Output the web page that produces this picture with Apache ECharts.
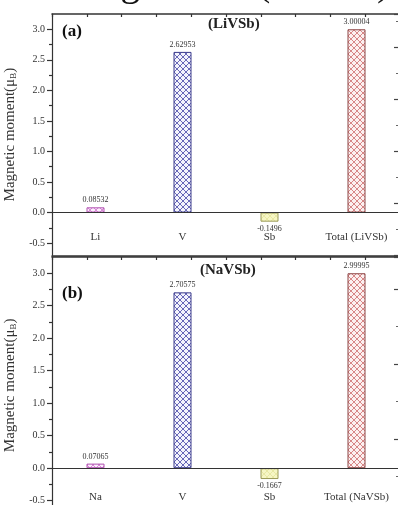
<!DOCTYPE html>
<html><head><meta charset="utf-8">
<script src="https://cdn.jsdelivr.net/npm/echarts@6/dist/echarts.min.js"></script>
<style>html,body{margin:0;padding:0;background:#fff}#c{width:398px;height:505px}</style>
</head><body><div id="c"></div>
<script>
const catsA = ['Li', 'V', 'Sb', 'Total (LiVSb)'];
const valsA = [0.08532, 2.62953, -0.1496, 3.00004];
const catsB = ['Na', 'V', 'Sb', 'Total (NaVSb)'];
const valsB = [0.07065, 2.70575, -0.1667, 2.99995];
const yMajor = [-0.5, 0, 0.5, 1.0, 1.5, 2.0, 2.5, 3.0];
const yMinor = [-0.25, 0.25, 0.75, 1.25, 1.75, 2.25, 2.75];

function hatch(line, bg) {
  const c = document.createElement('canvas'); c.width = 6; c.height = 6;
  const g = c.getContext('2d'); g.fillStyle = bg; g.fillRect(0, 0, 6, 6);
  g.strokeStyle = line; g.lineWidth = 0.9;
  g.beginPath(); g.moveTo(-1, -1); g.lineTo(7, 7); g.moveTo(7, -1); g.lineTo(-1, 7); g.stroke();
  return { image: c, repeat: 'repeat' };
}
const styles = [
  { border: '#b050b0', fill: hatch('#d47ad4', '#fbeefb') },
  { border: '#3c3c8c', fill: hatch('#5858b0', '#f4f4fc') },
  { border: '#9a9a58', fill: hatch('#e6e6a0', '#f6f6c4') },
  { border: '#8c4444', fill: hatch('#d27a7a', '#fcf0f0') }
];
const FONT = 'Liberation Serif';
const TXT = '#333';

function barData(vals) {
  return vals.map((v, i) => ({
    value: v,
    itemStyle: { color: styles[i].fill, borderColor: styles[i].border, borderWidth: 1 },
    label: { position: v < 0 ? 'bottom' : 'top' }
  }));
}

function gridAxes(gi, cats, yStart, labelMargin, rightRange) {
  const xs = [
    { gridIndex: gi, type: 'category', data: cats, position: 'bottom', z: 5,
      axisLine: { onZero: true, onZeroAxisIndex: yStart, lineStyle: { color: TXT, width: 1.2 } },
      axisTick: { alignWithLabel: true, length: 5, lineStyle: { color: TXT, width: 1.2 } },
      axisLabel: { show: false } },
    { gridIndex: gi, type: 'category', data: cats, position: 'bottom', z: 5,
      axisLine: { show: false, onZero: true, onZeroAxisIndex: yStart },
      axisTick: { alignWithLabel: false, length: 3, lineStyle: { color: TXT, width: 1.2 } },
      axisLabel: { show: false } },
    { gridIndex: gi, type: 'category', data: cats, position: 'bottom',
      axisLine: { show: false, onZero: false },
      axisTick: { show: false },
      axisLabel: { margin: labelMargin, fontFamily: FONT, fontSize: 11, color: TXT } },
    { gridIndex: gi, type: 'value', position: 'top', min: 0, max: 10, interval: 1,
      axisLine: { onZero: false, lineStyle: { color: TXT, width: 1.5 } },
      axisTick: { inside: true, length: 3, lineStyle: { color: TXT, width: 1.2 } },
      axisLabel: { show: false }, splitLine: { show: false } }
  ];
  if (gi === 0) xs.push({ gridIndex: gi, type: 'value', position: 'bottom', min: 0, max: 10,
      axisLine: { onZero: false, lineStyle: { color: TXT, width: 1.5 } },
      axisTick: { show: false }, axisLabel: { show: false }, splitLine: { show: false } });
  const ys = [
    { gridIndex: gi, type: 'value', position: 'left', min: -0.7, max: 3.25,
      axisLine: { show: true, onZero: false, lineStyle: { color: TXT, width: 1.2 } },
      axisTick: { show: true, length: 5, customValues: yMajor, lineStyle: { color: TXT, width: 1.2 } },
      axisLabel: { customValues: yMajor, formatter: v => v.toFixed(1), fontFamily: FONT, fontSize: 10, color: TXT, margin: 7 },
      splitLine: { show: false },
      name: '{a|Magnetic moment(μ}{s|B}{a|)}', nameLocation: 'middle', nameGap: 21,
      nameTextStyle: { rich: { a: { fontFamily: FONT, fontSize: 15, color: TXT }, s: { fontFamily: FONT, fontSize: 9, color: TXT, padding: [7, 0, 0, 0] } } } },
    { gridIndex: gi, type: 'value', position: 'left', min: -0.7, max: 3.25,
      axisLine: { show: false, onZero: false },
      axisTick: { show: true, length: 3, customValues: yMinor, lineStyle: { color: TXT, width: 1.2 } },
      axisLabel: { show: false }, splitLine: { show: false } },
    { gridIndex: gi, type: 'value', position: 'right', min: rightRange[0], max: rightRange[1], interval: 1,
      axisLine: { show: false, onZero: false },
      axisTick: { show: true, inside: true, length: 6, lineStyle: { color: '#444', width: 1.2 } },
      minorTick: { show: true, splitNumber: 2, length: 4, lineStyle: { color: '#666', width: 1 } },
      axisLabel: { show: false }, splitLine: { show: false } }
  ];
  return { xs, ys };
}

const A = gridAxes(0, catsA, 0, -23.3, [0, 4.63]);
const B = gridAxes(1, catsB, 3, -21.7, [0.684, 4.107]);

const labelCommon = { show: true, fontFamily: FONT, fontSize: 8, color: TXT, distance: 3, formatter: p => String(p.value) };

const chart = echarts.init(document.getElementById('c'), null, { renderer: 'canvas' });
chart.setOption({
  backgroundColor: '#fff',
  animation: false,
  grid: [
    { left: 52, right: -2, top: 14, height: 241.3, outerBoundsMode: 'none' },
    { left: 52, right: -2, top: 257, height: 256.7, outerBoundsMode: 'none' }
  ],
  xAxis: A.xs.concat(B.xs),
  yAxis: A.ys.concat(B.ys),
  series: [
    { type: 'bar', xAxisIndex: 0, yAxisIndex: 0, barWidth: 18, data: barData(valsA), label: labelCommon },
    { type: 'bar', xAxisIndex: 5, yAxisIndex: 3, barWidth: 18, data: barData(valsB), label: labelCommon }
  ],
  graphic: [
    { type: 'text', left: 67, top: -36, style: { text: 'Magnetism (LiVSb)', font: '40px "Liberation Serif"', fill: '#111' } },
    { type: 'text', left: 62, top: 23, style: { text: '(a)', font: 'bold 17px "Liberation Serif"', fill: '#111' } },
    { type: 'text', left: 208, top: 17, style: { text: '(LiVSb)', font: 'bold 15px "Liberation Serif"', fill: '#222' } },
    { type: 'text', left: 62, top: 285, style: { text: '(b)', font: 'bold 17px "Liberation Serif"', fill: '#111' } },
    { type: 'text', left: 200, top: 263, style: { text: '(NaVSb)', font: 'bold 15px "Liberation Serif"', fill: '#222' } }
  ]
});
</script></body></html>
